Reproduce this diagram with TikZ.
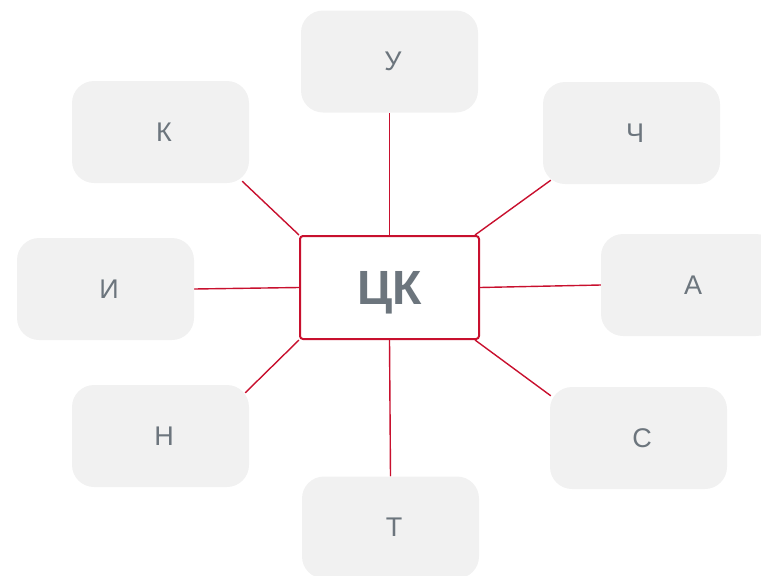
\documentclass[tikz,border=0pt]{standalone}
\usepackage{fontspec}
\setmainfont{Liberation Sans}
\usetikzlibrary{backgrounds}
\definecolor{txtgray}{RGB}{108,117,125}
\definecolor{linered}{RGB}{200,16,46}
\definecolor{boxgray}{RGB}{241,241,241}
\begin{document}
\begin{tikzpicture}[x=1pt,y=-1pt,
  leaf/.style={rectangle, fill=boxgray, rounded corners=22pt, minimum width=177pt, minimum height=102pt, inner sep=0pt, text depth=0pt, text=txtgray, font=\fontsize{27}{30}\selectfont, execute at begin node={\hspace*{7pt}}},
  hub/.style={rectangle, draw=linered, line width=2pt, fill=white, rounded corners=3pt, minimum width=179pt, minimum height=103pt, inner sep=0pt, text depth=0pt, text=txtgray, font=\fontsize{48}{52}\selectfont\bfseries},
  link/.style={draw=linered, line width=1.4pt}]
\useasboundingbox (0,0) rectangle (761,576);
\node[hub] (c) at (389.5,287.5) {ЦК};
\node[leaf] (u) at (389.5,61.5) {У};
\node[leaf] (k) at (160.5,132) {К};
\node[leaf] (ch) at (631.5,133) {Ч};
\node[leaf] (i) at (105.5,289) {И};
\node[leaf] (a) at (689.5,285) {А};
\node[leaf] (n) at (160.5,436) {Н};
\node[leaf] (s) at (638.5,438) {С};
\node[leaf] (t) at (390.5,527.5) {Т};
\begin{scope}[on background layer]
\draw[link] (c.north) -- (u.south);
\draw[link] (c.south) -- (t.north);
\draw[link] (c.west) -- (i.east);
\draw[link] (c.east) -- (a.west);
\draw[link] (c.north west) -- ([xshift=-7pt,yshift=2pt]k.south east);
\draw[link] ([xshift=-5pt]c.north east) -- ([xshift=8pt,yshift=4pt]ch.south west);
\draw[link] (c.south west) -- ([xshift=-4pt,yshift=-8pt]n.north east);
\draw[link] ([xshift=-5pt]c.south east) -- ([xshift=1pt,yshift=-9pt]s.north west);
\end{scope}
\end{tikzpicture}
\end{document}
